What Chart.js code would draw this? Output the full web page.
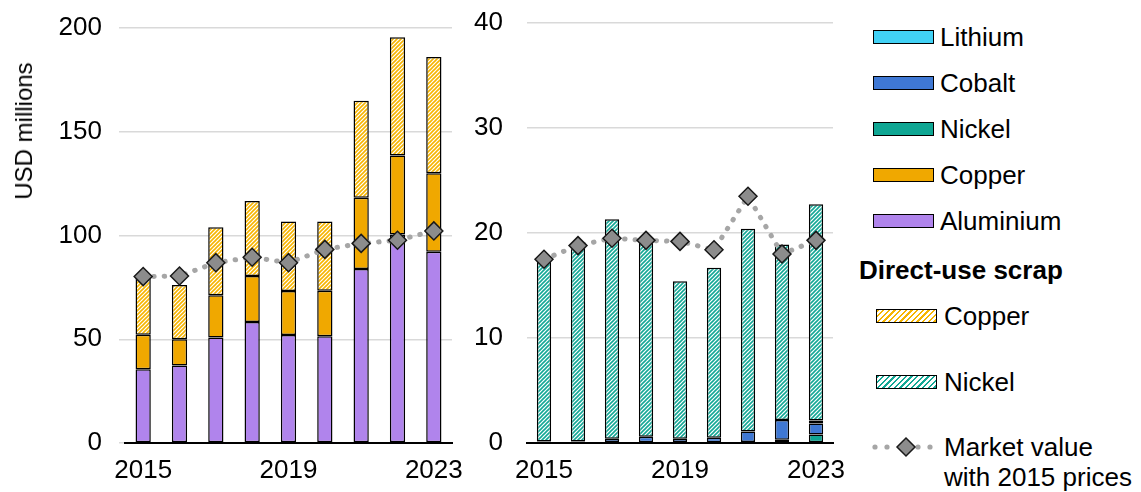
<!DOCTYPE html>
<html>
<head>
<meta charset="utf-8">
<script src="https://cdn.jsdelivr.net/npm/chart.js@4.4.1/dist/chart.umd.min.js"></script>
<style>
  body { margin: 0; background: #fff; width: 1141px; height: 492px; overflow: hidden; position: relative;
         font-family: "Liberation Sans", Arial, sans-serif; color: #000; }
  #leftBox { position: absolute; left: 0; top: 0; width: 470px; height: 492px; }
  #rightBox { position: absolute; left: 470px; top: 0; width: 380px; height: 492px; }
  .ytitle { position: absolute; left: 24px; top: 131px; transform: translate(-50%, -50%) rotate(-90deg);
            white-space: nowrap; font-size: 24px; }
  .lg { position: absolute; font-size: 26px; line-height: 30px; white-space: nowrap; }
  .sw { position: absolute; width: 61px; height: 14px; border: 1.5px solid #000; box-sizing: border-box; }
</style>
</head>
<body>
<div id="leftBox"><canvas id="left"></canvas></div>
<div id="rightBox"><canvas id="right"></canvas></div>
<div class="ytitle">USD millions</div>

<div class="sw" style="left:873px;top:30px;background:#41d1f5"></div>
<div class="lg" style="left:940px;top:22px">Lithium</div>
<div class="sw" style="left:873px;top:76px;background:#3f78d4"></div>
<div class="lg" style="left:940px;top:68px">Cobalt</div>
<div class="sw" style="left:873px;top:122px;background:#0fa693"></div>
<div class="lg" style="left:940px;top:114px">Nickel</div>
<div class="sw" style="left:873px;top:168px;background:#f0a800"></div>
<div class="lg" style="left:940px;top:160px">Copper</div>
<div class="sw" style="left:873px;top:214px;background:#b084ec"></div>
<div class="lg" style="left:940px;top:206px">Aluminium</div>
<div class="lg" style="left:859px;top:255px;font-weight:bold">Direct-use scrap</div>
<div class="sw" style="left:876px;top:309px;background:repeating-linear-gradient(135deg,#f7b500 0 1.6px,#fff 1.6px 4px)"></div>
<div class="lg" style="left:944px;top:301px">Copper</div>
<div class="sw" style="left:876px;top:375px;background:repeating-linear-gradient(135deg,#14a896 0 1.6px,#fff 1.6px 4px)"></div>
<div class="lg" style="left:944px;top:367px">Nickel</div>
<svg style="position:absolute;left:868px;top:435px" width="70" height="24">
  <circle cx="7" cy="12" r="2.6" fill="#a6a6a6"/><circle cx="19" cy="12" r="2.6" fill="#a6a6a6"/>
  <circle cx="50" cy="12" r="2.6" fill="#a6a6a6"/><circle cx="62" cy="12" r="2.6" fill="#a6a6a6"/>
  <polygon points="38,3 47,12 38,21 29,12" fill="#8c8c8c" stroke="#1a1a1a" stroke-width="1.5"/>
</svg>
<div class="lg" style="left:944px;top:432px">Market value<br>with 2015 prices</div>

<script>
// years on both panels
const years = ['2015', '2016', '2017', '2018', '2019', '2020', '2021', '2022', '2023'];

// left panel (USD millions)
const aluminium = [35.5, 37.3, 50.8, 58.3, 52.0, 51.4, 83.9, 100.5, 92.2];
const copper = [16.7, 12.7, 20.4, 22.2, 21.3, 22.0, 34.3, 38.0, 37.8];
const scrapCopper = [27.8, 26.1, 32.8, 36.1, 33.5, 33.4, 46.8, 57.0, 56.0];
const marketLeft = [80.2, 80.5, 86.9, 89.5, 86.9, 93.3, 96.2, 97.7, 102.2];

// right panel
const nickel = [0.05, 0.05, null, null, null, null, 0.1, 0.3, 0.8];
const cobalt = [0.1, 0.1, 0.4, 0.6, 0.4, 0.5, 1.0, 1.9, 1.05];
const lithium = [null, null, null, null, null, null, null, null, 0.3];
const scrapNickel = [17.2, 18.5, 20.9, 18.5, 15.0, 16.2, 19.3, 16.7, 20.6];
const marketRight = [17.5, 18.8, 19.5, 19.3, 19.2, 18.4, 23.5, 18.0, 19.3];

const FONT = { family: "'Liberation Sans', Arial, sans-serif", size: 26 };

function hatch(color) {
  const c = document.createElement('canvas');
  c.width = 4; c.height = 4;
  const g = c.getContext('2d');
  g.fillStyle = '#fff';
  g.fillRect(0, 0, 4, 4);
  g.strokeStyle = color;
  g.lineWidth = 1.6;
  g.beginPath();
  g.moveTo(0, 4); g.lineTo(4, 0);
  g.moveTo(-1, 1); g.lineTo(1, -1);
  g.moveTo(3, 5); g.lineTo(5, 3);
  g.stroke();
  return g.createPattern(c, 'repeat');
}

function bar(label, data, color) {
  return {
    type: 'bar', label, data, backgroundColor: color, borderColor: '#000', borderWidth: 1.5,
    borderSkipped: false, stack: 'bars', order: 1, barPercentage: 0.42, categoryPercentage: 1
  };
}

function market(data) {
  return {
    type: 'line', label: 'Market value with 2015 prices', data, stack: 'mv', order: 0,
    borderColor: '#a6a6a6', borderWidth: 5, borderDash: [0.5, 10], borderCapStyle: 'round',
    pointStyle: 'rectRot', pointRadius: 9, pointBackgroundColor: '#8c8c8c',
    pointBorderColor: '#1a1a1a', pointBorderWidth: 1.5, tension: 0
  };
}

function options(max, step, yWidth, ticks, pad, top, right) {
  return {
    responsive: true, maintainAspectRatio: false, animation: false,
    layout: { padding: { top: top, right: right, left: 0, bottom: 0 } },
    plugins: { legend: { display: false }, tooltip: { enabled: false } },
    scales: {
      x: {
        stacked: true,
        grid: { display: false },
        border: { display: true, color: '#000', width: 2 },
        ticks: {
          color: '#000', font: FONT, maxRotation: 0, autoSkip: false, padding: 4,
          callback: function (v, i) { return i % 4 === 0 ? this.getLabelForValue(v) : ''; }
        },
        afterFit: s => { s.height = 49; }
      },
      y: {
        stacked: true, min: 0, max: max,
        grid: { color: '#d9d9d9', lineWidth: 1.5, drawTicks: ticks, tickLength: 6 },
        border: { display: false },
        ticks: { stepSize: step, color: '#000', font: FONT, padding: pad },
        afterFit: s => { s.width = yWidth; s.paddingTop = 0; s.paddingBottom = 0; }
      }
    }
  };
}

new Chart(document.getElementById('left'), {
  data: {
    labels: years,
    datasets: [
      bar('Aluminium', aluminium, '#b084ec'),
      bar('Copper', copper, '#f0a800'),
      bar('Direct-use scrap copper', scrapCopper, hatch('#f7b500')),
      market(marketLeft)
    ]
  },
  options: options(200, 50, 125, true, 17, 28, 18)
});

new Chart(document.getElementById('right'), {
  data: {
    labels: years,
    datasets: [
      bar('Nickel', nickel, '#0fa693'),
      bar('Cobalt', cobalt, '#3f78d4'),
      bar('Lithium', lithium, '#41d1f5'),
      bar('Direct-use scrap nickel', scrapNickel, hatch('#14a896')),
      market(marketRight)
    ]
  },
  options: options(40, 10, 57, false, 24, 23, 17)
});
</script>
</body>
</html>
